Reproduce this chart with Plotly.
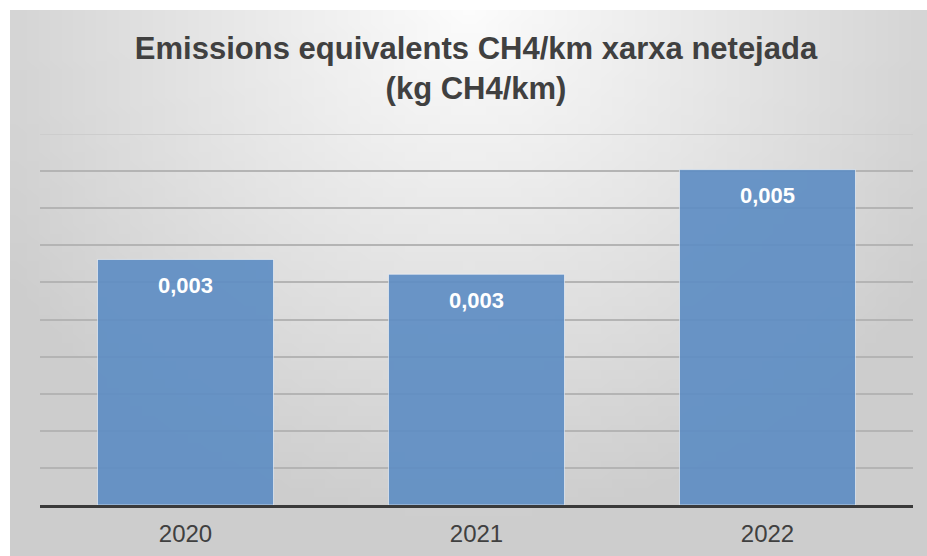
import base64
import math
import struct
import zlib

import plotly.graph_objects as go

# Data
years = ["2020", "2021", "2022"]
emissions = [0.00331, 0.00311, 0.00452]  # kg CH4/km
title_lines = ["Emissions equivalents CH4/km xarxa netejada", "(kg CH4/km)"]
y_max = 0.005
y_step = 0.0005


def gradient_png(w=80, h=60):
    """Small radial grey gradient used as the chart background."""
    rows = []
    for j in range(h):
        fy = j / (h - 1)
        row = bytearray([0])
        for i in range(w):
            fx = i / (w - 1)
            d = math.sqrt(((fx - 0.5) / 0.6) ** 2 + (fy / 0.95) ** 2)
            c = int(round(205 + 47 * max(0.0, 1.0 - d)))
            row += bytes([c, c, c])
        rows.append(bytes(row))
    raw = b"".join(rows)

    def chunk(tag, data):
        body = tag + data
        return struct.pack(">I", len(data)) + body + struct.pack(">I", zlib.crc32(body) & 0xFFFFFFFF)

    png = b"\x89PNG\r\n\x1a\n"
    png += chunk(b"IHDR", struct.pack(">IIBBBBB", w, h, 8, 2, 0, 0, 0))
    png += chunk(b"IDAT", zlib.compress(raw, 9))
    png += chunk(b"IEND", b"")
    return "data:image/png;base64," + base64.b64encode(png).decode()


W, H = 927, 556
ML, MR, MT, MB = 40, 14, 134, 51
pw, ph = W - ML - MR, H - MT - MB
FONT = "Liberation Sans, Arial, sans-serif"

fig = go.Figure(
    go.Bar(
        x=years,
        y=emissions,
        width=0.605,
        marker=dict(color="#5f8ec4", opacity=0.92,
                    line=dict(color="rgba(255,255,255,0.6)", width=1)),
        hoverinfo="skip",
    )
)

# value labels near the top of each bar (category axis uses serial positions)
for i, v in enumerate(emissions):
    fig.add_annotation(
        x=i, y=v, yref="y", xref="x",
        text=f"{v:.3f}".replace(".", ","),
        showarrow=False, yshift=-26,
        font=dict(family=FONT, size=22, color="white", weight="bold"),
    )

# top gridline sits on the edge of the plot area, so draw it explicitly
fig.add_shape(
    type="line", xref="paper", yref="y",
    x0=0, x1=1, y0=y_max, y1=y_max,
    line=dict(color="#cdcdcd", width=2), layer="below",
)

# background panel (from x=10px, y=10px to the page edge)
fig.add_layout_image(
    source=gradient_png(),
    xref="paper", yref="paper",
    x=(10 - ML) / pw, y=(H - MB - 10) / ph,
    sizex=(W - 10) / pw, sizey=(H - 10) / ph,
    xanchor="left", yanchor="top",
    sizing="stretch", layer="below",
)

fig.update_layout(
    width=W, height=H,
    margin=dict(l=ML, r=MR, t=MT, b=MB, autoexpand=False),
    paper_bgcolor="white",
    plot_bgcolor="rgba(0,0,0,0)",
    showlegend=False,
    title=dict(
        text="<b>" + "<br>".join(title_lines) + "</b>",
        x=(476 / W), xanchor="center",
        y=1 - 58.5 / H, yanchor="middle",
        font=dict(family=FONT, size=31, color="#404040"),
    ),
    xaxis=dict(
        type="category", range=[-0.5, 2.5], automargin=False,
        showline=True, linecolor="#3a3a3a", linewidth=3,
        ticks="", ticklabelstandoff=5,
        tickfont=dict(family=FONT, size=24, color="#404040"),
        showgrid=False,
    ),
    yaxis=dict(
        range=[0, y_max], dtick=y_step, automargin=False,
        showgrid=True, gridcolor="#b4b4b4", gridwidth=2,
        zeroline=False, showticklabels=False, ticks="",
    ),
)

fig.write_html("out.html")
